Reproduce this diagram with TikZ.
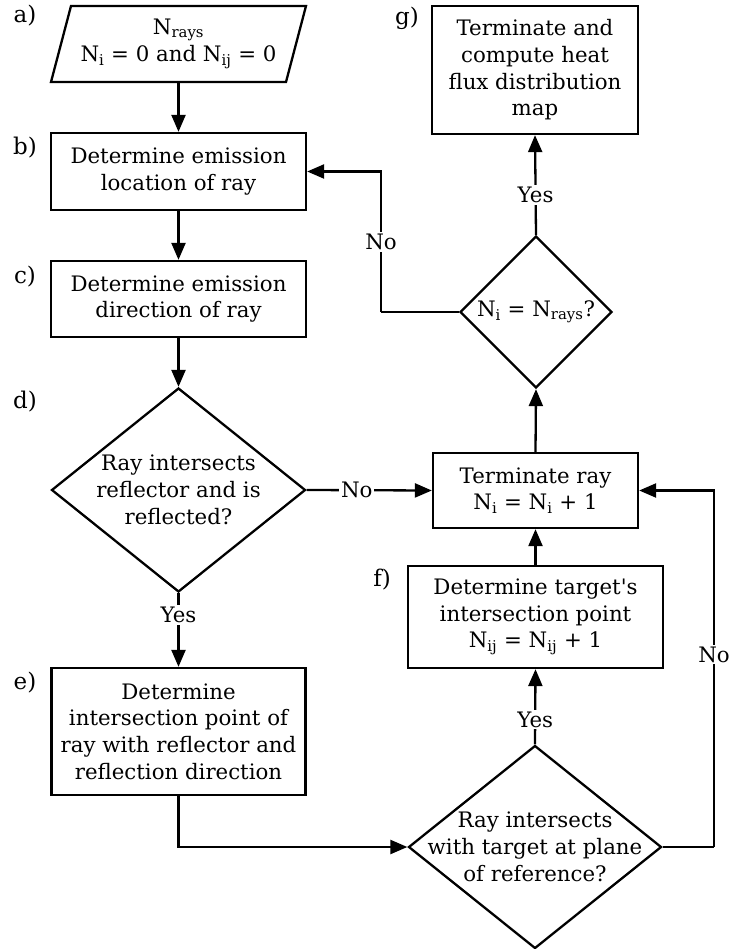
\documentclass[tikz,border=0pt]{standalone}
\usepackage{fontspec}
\setmainfont{DejaVu Serif}
\usetikzlibrary{arrows.meta,shapes.geometric}
\tikzset{
  box/.style={draw, line width=2.3pt, rectangle, inner sep=0pt, align=center},
  dia/.style={draw, line width=2.3pt, diamond, inner sep=0pt},
  txt/.style={align=center, inner sep=0pt},
  lbl/.style={inner sep=0pt, font=\fontsize{23}{28}\selectfont},
  conn/.style={line width=2.3pt, -{Triangle[length=17pt,width=14pt]}},
  plain/.style={line width=2.3pt},
  tag/.style={fill=white, inner sep=2pt, font=\fontsize{21.3}{26}\selectfont},
}
\begin{document}
\begin{tikzpicture}[x=1pt,y=-1pt,font=\fontsize{21.3}{26.7}\selectfont]
\useasboundingbox (0,0) rectangle (728,949);
% a) parallelogram
\node[txt, minimum width=235, minimum height=76] (a) at (178.5,44) {N\textsubscript{rays}\\N\textsubscript{i} = 0 and N\textsubscript{ij} = 0};
\draw[plain, line join=miter] (71,6) -- (306,6) -- (286,82) -- (51,82) -- cycle;
% boxes
\node[box, minimum width=255, minimum height=77] (b) at (178.5,171.5) {Determine emission\\location of ray};
\node[box, minimum width=255, minimum height=76] (c) at (178.5,299) {Determine emission\\direction of ray};
\node[dia, minimum width=254, minimum height=204] (d) at (178.5,490) {};
\node[txt] (dt) at (d.center) {Ray intersects\\reflector and is\\reflected?};
\node[box, minimum width=254, minimum height=127] (e) at (178.5,731.5) {Determine\\intersection point of\\ray with reflector and\\reflection direction};
\node[dia, minimum width=253, minimum height=203] (t) at (535,847) {};
\node[txt] (tt) at (t.center) {Ray intersects\\with target at plane\\of reference?};
\node[box, minimum width=255, minimum height=102] (f) at (535.5,617) {Determine target\textquotesingle s\\intersection point\\N\textsubscript{ij} = N\textsubscript{ij} + 1};
\node[box, minimum width=205, minimum height=75] (r) at (535.5,490.5) {Terminate ray\\N\textsubscript{i} = N\textsubscript{i} + 1};
\node[dia, minimum width=152, minimum height=152] (n) at (536,312) {};
\node[txt] (nt) at (n.center) {N\textsubscript{i} = N\textsubscript{rays}?};
\node[box, minimum width=206, minimum height=128] (g) at (535,70) {Terminate and\\compute heat\\flux distribution\\map};
% step labels
\node[lbl] (la) at (25,16) {a)};
\node[lbl] (lb) at (25,148) {b)};
\node[lbl] (lc) at (25,277) {c)};
\node[lbl] (ld) at (25,402) {d)};
\node[lbl] (le) at (25,683) {e)};
\node[lbl] (lf) at (382,580) {f)};
\node[lbl] (lg) at (407,18) {g)};
% helper coordinates
\coordinate (nb) at (381,312);
\coordinate (tr) at (714,847);
% connectors
\draw[conn] (a.south) -- (b.north);
\draw[conn] (b.south) -- (c.north);
\draw[conn] (c.south) -- (d.north);
\draw[conn] (d.east) -- node[tag, pos=0.4] (dno) {No} (r.west);
\draw[conn] (d.south) -- node[tag, pos=0.3] (dyes) {Yes} (e.north);
\draw[conn] (e.south) |- (t.west);
\draw[conn] (t.north) -- node[tag, pos=0.33] (tyes) {Yes} (f.south);
\draw[conn] (f.north) -- (r.south);
\draw[plain] (t.east) -- (tr);
\draw[conn] (tr) |- node[tag, pos=0.27] (tno) {No} (r.east);
\draw[conn] (r.north) -- (n.south);
\draw[conn] (n.north) -- node[tag, pos=0.4] (nyes) {Yes} (g.south);
\draw[plain] (n.west) -- (nb);
\draw[conn] (nb) |- node[tag, pos=0.25] (nno) {No} (b.east);
\end{tikzpicture}
\end{document}
